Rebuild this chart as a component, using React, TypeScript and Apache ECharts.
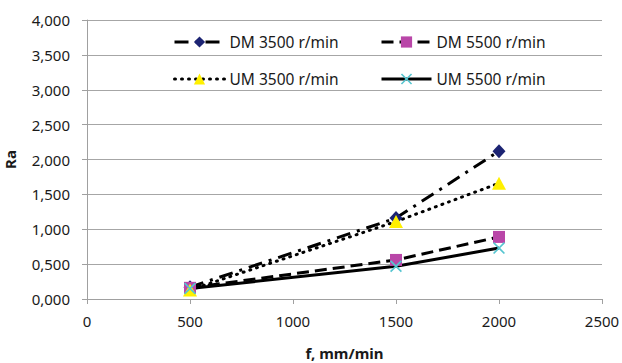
import React, { useEffect, useRef } from "react";
import * as echarts from "echarts";

const feedRates = [500, 1500, 2000];
const dm3500 = [0.17, 1.16, 2.12];
const dm5500 = [0.16, 0.56, 0.89];
const um3500 = [0.13, 1.11, 1.66];
const um5500 = [0.15, 0.47, 0.73];
const seriesNames = ["DM 3500 r/min", "DM 5500 r/min", "UM 3500 r/min", "UM 5500 r/min"];

const X_SYMBOL = "path://M1,0 L5,4 L9,0 L10,1 L6,5 L10,9 L9,10 L5,6 L1,10 L0,9 L4,5 L0,1 Z";
const FONT = "Noto Sans";
const TXT = "#1a1a1a";

function pts(vals: number[]) {
  return feedRates.map((f, i) => [f, vals[i]]);
}

export default function App() {
  const ref = useRef<HTMLDivElement>(null);
  useEffect(() => {
    if (!ref.current) return;
    const chart = echarts.init(ref.current, null, { renderer: "svg" });
    const legendItem = (name: string, left: number, top: number) => ({
      data: [name],
      left,
      top,
      padding: 0,
      itemWidth: 50,
      itemHeight: 14,
      lineStyle: { width: 3 },
      textStyle: { fontFamily: FONT, fontSize: 15.5, color: TXT },
    });
    chart.setOption({
      animation: false,
      backgroundColor: "#ffffff",
      grid: { left: 87, right: 20, top: 20, bottom: 64, outerBoundsMode: "none", containLabel: false },
      legend: [
        legendItem(seriesNames[0], 173, 34),
        legendItem(seriesNames[1], 380, 34),
        legendItem(seriesNames[2], 173, 71),
        legendItem(seriesNames[3], 380, 71),
      ],
      xAxis: {
        type: "value",
        min: 0,
        max: 2500,
        interval: 500,
        name: "f, mm/min",
        nameLocation: "middle",
        nameGap: 46,
        nameTextStyle: { fontFamily: FONT, fontSize: 15, fontWeight: "bold", color: TXT },
        axisLine: { show: true, lineStyle: { color: "#a0a0a0", width: 1 } },
        axisTick: { show: true, length: 5, lineStyle: { color: "#a0a0a0" } },
        axisLabel: {
          fontFamily: FONT,
          fontSize: 15,
          color: TXT,
          margin: 14,
          formatter: (v: number) => String(v),
        },
        splitLine: { show: false },
      },
      yAxis: {
        type: "value",
        min: 0,
        max: 4,
        interval: 0.5,
        name: "Ra",
        nameLocation: "middle",
        nameGap: 70,
        nameTextStyle: { fontFamily: FONT, fontSize: 15, fontWeight: "bold", color: TXT },
        axisLine: { show: true, lineStyle: { color: "#a0a0a0", width: 1 } },
        axisTick: { show: true, length: 5, lineStyle: { color: "#a0a0a0" } },
        axisLabel: {
          fontFamily: FONT,
          fontSize: 15,
          color: TXT,
          margin: 17,
          formatter: (v: number) => v.toFixed(3).replace(".", ","),
        },
        splitLine: { show: true, lineStyle: { color: "#a6a6a6", width: 1 } },
      },
      series: [
        {
          name: seriesNames[0],
          type: "line",
          data: pts(dm3500),
          symbol: "diamond",
          symbolSize: [13, 14],
          itemStyle: { color: "#1c2473" },
          lineStyle: { color: "#000", width: 3, type: [14, 7, 3, 7] },
          z: 3,
        },
        {
          name: seriesNames[1],
          type: "line",
          data: pts(dm5500),
          symbol: "rect",
          symbolSize: 12,
          itemStyle: { color: "#b946a8" },
          lineStyle: { color: "#000", width: 3, type: [12, 6] },
          z: 3,
        },
        {
          name: seriesNames[2],
          type: "line",
          data: pts(um3500),
          symbol: "triangle",
          symbolSize: [14, 13],
          itemStyle: { color: "#fff000" },
          lineStyle: { color: "#000", width: 3, type: [1, 6], cap: "round" },
          z: 3,
        },
        {
          name: seriesNames[3],
          type: "line",
          data: pts(um5500),
          symbol: X_SYMBOL,
          symbolSize: 12,
          itemStyle: { color: "#55c5d0" },
          lineStyle: { color: "#000", width: 3, type: "solid" },
          z: 3,
        },
      ],
    });
    return () => chart.dispose();
  }, []);
  return <div ref={ref} style={{ width: 622, height: 363, position: "absolute", left: 0, top: 0 }} />;
}
